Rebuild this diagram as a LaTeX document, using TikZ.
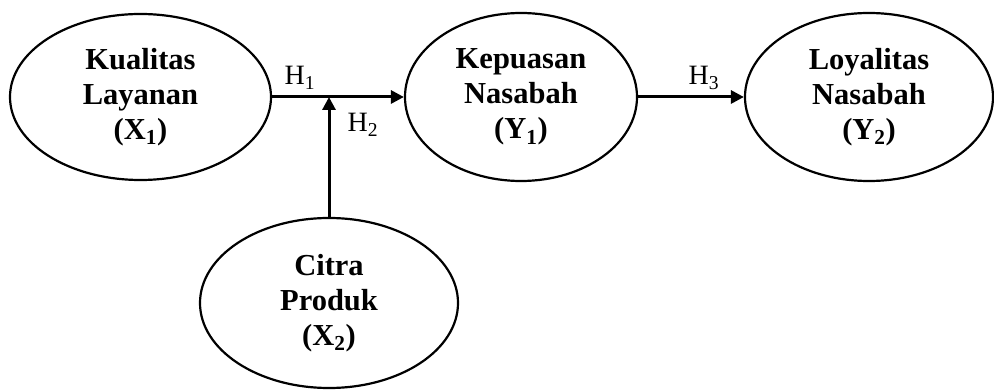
\documentclass[tikz,border=0pt]{standalone}
\usepackage{fontspec}
\setmainfont{Liberation Serif}
\usetikzlibrary{shapes.geometric,arrows.meta}
\tikzset{
  var/.style={ellipse, draw, line width=2.2pt, inner sep=0pt, align=center,
    font=\fontsize{30.5}{35}\selectfont\bfseries},
  link/.style={line width=3pt, -{Triangle[length=13pt,width=13pt]}},
  hlab/.style={font=\fontsize{28}{30}\selectfont, inner sep=0pt}
}
\begin{document}
\begin{tikzpicture}[x=1pt,y=-1pt]
\useasboundingbox (0,0) rectangle (994,390);
\node[var, minimum width=261pt, minimum height=166pt] (kl) at (140.5,97) {Kualitas\\Layanan\\(X\textsubscript{1})};
\node[var, minimum width=232pt, minimum height=168pt] (kp) at (521,97) {Kepuasan\\Nasabah\\(Y\textsubscript{1})};
\node[var, minimum width=248pt, minimum height=168pt] (ly) at (869,97) {Loyalitas\\Nasabah\\(Y\textsubscript{2})};
\node[var, minimum width=258pt, minimum height=170pt] (cp) at (329,303) {Citra\\Produk\\(X\textsubscript{2})};
\coordinate (j) at (329,97);
\draw[link] (kl) -- (kp);
\draw[link] (cp) -- (j);
\draw[link] (kp) -- (ly);
\node[hlab] (h1) at (300,78) {H\textsubscript{1}};
\node[hlab] (h2) at (363,125) {H\textsubscript{2}};
\node[hlab] (h3) at (704,78) {H\textsubscript{3}};
\end{tikzpicture}
\end{document}
